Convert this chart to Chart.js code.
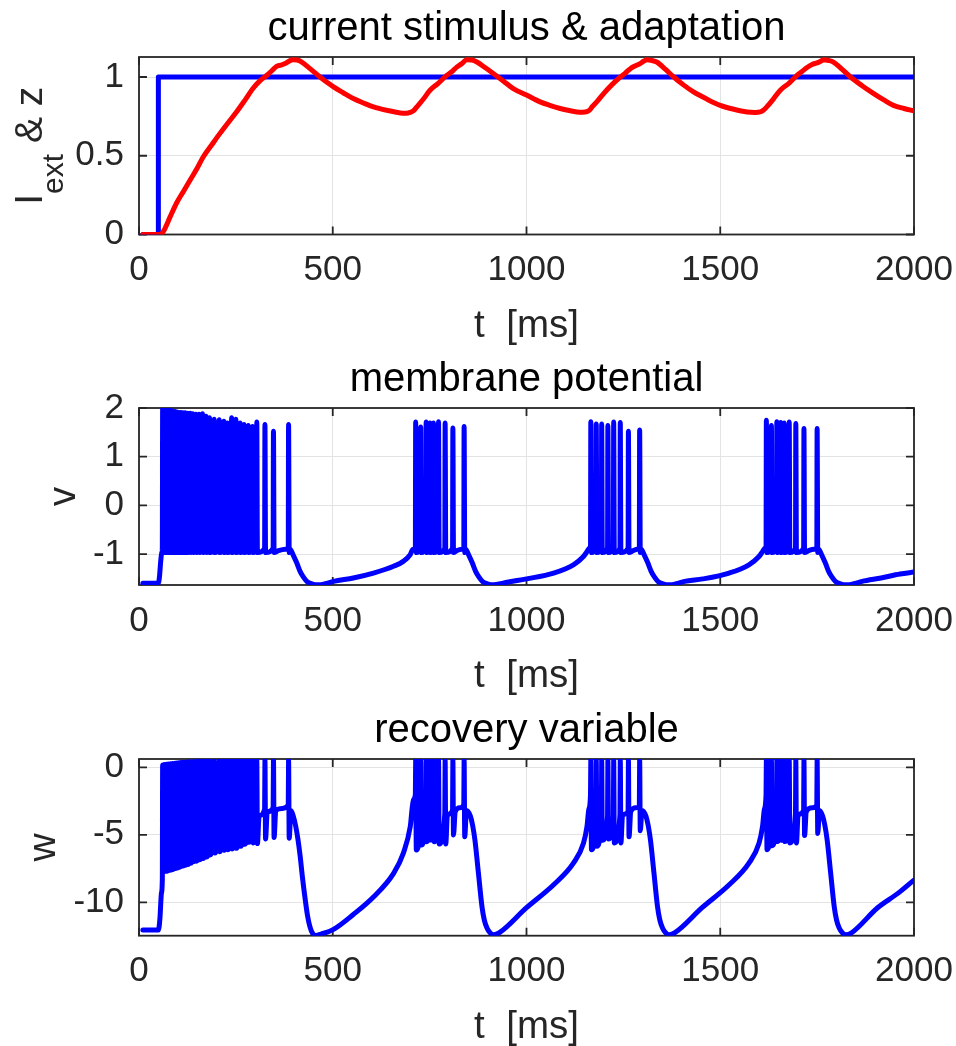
<!DOCTYPE html>
<html>
<head>
<meta charset="utf-8">
<script src="https://cdn.jsdelivr.net/npm/chart.js@4.4.1/dist/chart.umd.min.js"></script>
<style>
  body { margin: 0; background: #fff; overflow: hidden; }
  .panel { position: absolute; left: 0; width: 956px; }
</style>
</head>
<body>
<div class="panel" style="top:0px"><canvas id="stimChart" width="956" height="350"></canvas></div>
<div class="panel" style="top:351px"><canvas id="vChart" width="956" height="350"></canvas></div>
<div class="panel" style="top:702px"><canvas id="wChart" width="956" height="344"></canvas></div>
<script>
// ---- data ----
const tTicks = [0, 500, 1000, 1500, 2000];
const stimTicks = [0, 0.5, 1];
const vTicks = [-1, 0, 1, 2];
const wTicks = [-10, -5, 0];

// top panel: I_ext (blue) and z (red)
const stimTime = [10, 50, 50, 2000];
const stimValue = [0, 0, 1, 1];
const zTime = [10, 55, 63, 80, 97, 115, 132, 150, 166, 188,
  209, 230, 252, 274, 295, 312, 330, 343, 355, 366,
  377, 387, 397, 408, 420, 443, 467, 485, 502, 527,
  553, 579, 605, 640, 674, 690, 700, 708, 717, 734,
  751, 772, 794, 808, 820, 833, 846, 859, 872, 893,
  915, 940, 966, 1000, 1035, 1060, 1087, 1110, 1130, 1145,
  1156, 1163, 1169, 1184, 1199, 1220, 1242, 1255, 1268, 1280,
  1293, 1302, 1311, 1323, 1336, 1358, 1380, 1405, 1431, 1465,
  1500, 1535, 1569, 1590, 1603, 1612, 1620, 1637, 1655, 1677,
  1698, 1711, 1724, 1737, 1750, 1759, 1767, 1780, 1792, 1814,
  1836, 1866, 1896, 1922, 1947, 1974, 2000];
const zValue = [0, 0, 0.02, 0.11, 0.2, 0.275, 0.346, 0.42, 0.494, 0.57,
  0.642, 0.71, 0.779, 0.855, 0.93, 0.975, 1.011, 1.04, 1.068, 1.075,
  1.085, 1.10, 1.11, 1.108, 1.095, 1.05, 1.0, 0.967, 0.937, 0.9,
  0.863, 0.835, 0.81, 0.788, 0.772, 0.77, 0.775, 0.785, 0.81, 0.86,
  0.916, 0.96, 1.01, 1.035, 1.063, 1.085, 1.11, 1.108, 1.095, 1.06,
  1.021, 0.975, 0.926, 0.885, 0.842, 0.82, 0.80, 0.787, 0.778, 0.776,
  0.78, 0.79, 0.81, 0.85, 0.895, 0.95, 1.0, 1.025, 1.053, 1.07,
  1.085, 1.1, 1.11, 1.105, 1.095, 1.05, 1.0, 0.95, 0.905, 0.86,
  0.82, 0.795, 0.778, 0.775, 0.778, 0.79, 0.81, 0.86, 0.916, 0.96,
  1.01, 1.035, 1.06, 1.08, 1.09, 1.1, 1.11, 1.105, 1.095, 1.05,
  1.0, 0.945, 0.895, 0.855, 0.82, 0.8, 0.785];

// spikes of the four bursts [ms]
const spikeTime = [
  61, 66, 71, 76, 82, 87, 93, 98, 103, 108, 113, 119, 125, 132, 139, 147, 155,
  164, 173, 182, 194, 207, 219, 228, 239, 250, 261, 271, 282, 293, 304, 325, 347, 386,
  714, 727, 741, 751, 760, 773, 790, 810, 839,
  1166, 1180, 1194, 1210, 1225, 1242, 1263, 1292,
  1619, 1632, 1646, 1656, 1665, 1678, 1695, 1716, 1750];
const vPeak = [
  2.0, 1.98, 1.965, 1.96, 1.95, 1.94, 1.93, 1.92, 1.91, 1.91, 1.90, 1.90, 1.89, 1.89, 1.88, 1.87, 1.87,
  1.88, 1.83, 1.80, 1.77, 1.76, 1.73, 1.69, 1.80, 1.77, 1.69, 1.66, 1.64, 1.62, 1.71, 1.66, 1.52, 1.66,
  1.71, 1.61, 1.71, 1.69, 1.69, 1.72, 1.69, 1.59, 1.62,
  1.72, 1.67, 1.67, 1.64, 1.71, 1.70, 1.52, 1.55,
  1.75, 1.64, 1.72, 1.70, 1.69, 1.71, 1.68, 1.58, 1.58];
const vBefore = -0.88;
const vAfter = -0.97;
const wTop = [
  0.17, 0.2, 0.22, 0.24, 0.26, 0.28, 0.3, 0.32, 0.34, 0.36, 0.37, 0.38, 0.4, 0.41, 0.42, 0.44, 0.45,
  0.47, 0.49, 0.51, 0.53, 0.54, 0.56, 0.57, 0.58, 0.6, 0.62, 0.62, 0.62, 0.62, 0.62, 0.62, 0.62, 0.62,
  0.62, 0.62, 0.62, 0.62, 0.62, 0.62, 0.62, 0.62, 0.62,
  0.62, 0.62, 0.62, 0.62, 0.62, 0.62, 0.62, 0.62,
  0.62, 0.62, 0.62, 0.62, 0.62, 0.62, 0.62, 0.62, 0.62];
const wLow = [
  -7.75, -7.7, -7.7, -7.65, -7.6, -7.56, -7.5, -7.45, -7.4, -7.35, -7.3, -7.25, -7.2, -7.1, -7.0, -6.95, -6.85,
  -6.75, -6.65, -6.5, -6.35, -6.25, -6.15, -6.1, -6.05, -6.0, -5.85, -5.7, -5.55, -5.6, -5.65, -5.3, -5.2, -5.25,
  -6.13, -5.76, -5.51, -5.39, -5.51, -5.68, -5.68, -5.01, -5.14,
  -6.1, -5.85, -5.4, -5.3, -5.6, -5.6, -5.15, -4.7,
  -6.1, -5.8, -5.5, -5.4, -5.5, -5.6, -5.6, -5.05, -4.9];
const wBefore = [
  -8.3, -4.8, -4.8, -4.8, -4.7, -4.7, -4.6, -4.6, -4.6, -4.5, -4.5, -4.4, -4.4, -4.3, -4.2, -4.1, -4.0,
  -3.9, -3.8, -3.7, -3.5, -3.4, -3.4, -3.5, -3.4, -3.4, -3.4, -3.5, -3.5, -3.5, -3.4, -3.1, -3.0, -2.8,
  -2.0, -3.6, -3.6, -3.7, -3.7, -3.6, -3.4, -3.2, -2.75,
  -2.0, -3.6, -3.6, -3.6, -3.6, -3.5, -3.3, -2.9,
  -2.0, -3.6, -3.6, -3.7, -3.7, -3.6, -3.4, -3.2, -2.8];

// slow parts of v and w between the spikes
const vSlowTime = [10, 50, 53, 56, 59, 360, 378,
  390, 398, 407, 416, 424, 433, 446, 463, 480, 502, 553, 605, 657, 682, 700, 707,
  820, 832,
  843, 851, 860, 869, 877, 886, 899, 916, 933, 950, 1000, 1070, 1121, 1147, 1157, 1162,
  1275, 1286,
  1296, 1304, 1313, 1322, 1330, 1339, 1352, 1369, 1386, 1408, 1455, 1523, 1574, 1600, 1610, 1615,
  1728, 1742,
  1754, 1762, 1771, 1780, 1788, 1797, 1810, 1827, 1844, 1866, 1915, 1964, 2000];
const vSlowValue = [-1.6, -1.6, -1.45, -1.15, -0.95, -0.93, -0.9,
  -0.9, -1.02, -1.18, -1.36, -1.47, -1.56, -1.61, -1.63, -1.61, -1.56, -1.49, -1.39, -1.25, -1.15, -1.01, -0.9,
  -0.93, -0.9,
  -0.9, -1.02, -1.18, -1.36, -1.47, -1.56, -1.61, -1.63, -1.61, -1.58, -1.51, -1.39, -1.22, -1.05, -0.94, -0.88,
  -0.93, -0.9,
  -0.9, -1.02, -1.18, -1.36, -1.47, -1.56, -1.61, -1.63, -1.61, -1.56, -1.51, -1.39, -1.22, -1.05, -0.94, -0.88,
  -0.93, -0.9,
  -0.9, -1.02, -1.18, -1.36, -1.47, -1.56, -1.61, -1.63, -1.61, -1.56, -1.49, -1.41, -1.37];
const wSlowTime = [10, 50, 54, 58, 310, 331, 353, 370,
  392, 398, 404, 410, 416, 422, 429, 435, 441, 448, 456, 470, 502, 553, 605, 657, 682, 700, 708,
  796, 816, 828,
  845, 855, 861, 867, 876, 885, 891, 898, 906, 915, 930, 1000, 1070, 1121, 1147, 1156, 1161,
  1248, 1269, 1282,
  1298, 1308, 1314, 1320, 1329, 1338, 1344, 1351, 1359, 1368, 1383, 1453, 1523, 1574, 1600, 1609, 1614,
  1701, 1722, 1738,
  1756, 1764, 1770, 1776, 1785, 1794, 1800, 1807, 1815, 1824, 1839, 1906, 1960, 2000];
const wSlowValue = [-12.05, -12.05, -11.2, -9.3, -3.6, -3.3, -3.2, -3.05,
  -3.2, -3.6, -4.3, -5.3, -6.6, -8.2, -9.8, -11.0, -11.8, -12.3, -12.45, -12.35, -12.0, -10.9, -9.6, -7.85, -6.37, -4.4, -2.4,
  -3.5, -3.3, -3.0,
  -3.2, -3.6, -4.3, -5.4, -7.85, -10.3, -11.3, -11.9, -12.25, -12.4, -12.25, -10.4, -8.7, -7.1, -5.63, -4.4, -3.1,
  -3.5, -3.3, -3.0,
  -3.2, -3.6, -4.3, -5.4, -7.85, -10.3, -11.3, -11.9, -12.25, -12.4, -12.25, -10.4, -8.7, -7.1, -5.63, -4.4, -3.1,
  -3.5, -3.3, -3.0,
  -3.2, -3.6, -4.3, -5.4, -7.85, -10.3, -11.3, -11.9, -12.25, -12.4, -12.25, -10.4, -9.3, -8.35];

// ---- helpers ----
const FONT = '"Liberation Sans", Arial, Helvetica, sans-serif';
const INK = '#262626';

function toPoints(ts, ys) {
  return ts.map((t, i) => ({ x: t, y: ys[i] }));
}

// merge slow parts with the spikes (rise, peak, fall), sorted in time
function traceWithSpikes(slowT, slowY, top, before, after) {
  const pts = toPoints(slowT, slowY);
  spikeTime.forEach((t, i) => {
    pts.push({ x: t - 0.8, y: Array.isArray(before) ? before[i] : before });
    pts.push({ x: t, y: top[i] });
    pts.push({ x: t + 1.6, y: Array.isArray(after) ? after[i] : after });
  });
  return pts.sort((a, b) => a.x - b.x);
}

// box, inward ticks, title and axis labels
const panelText = {
  id: 'panelText',
  beforeDatasetsDraw(chart) {
    const { ctx, chartArea: a, scales: { x, y } } = chart;
    ctx.save();
    ctx.strokeStyle = INK;
    ctx.lineWidth = 1.8;
    ctx.beginPath();
    x.ticks.forEach(tk => {
      const px = x.getPixelForValue(tk.value);
      ctx.moveTo(px, a.bottom); ctx.lineTo(px, a.bottom - 8);
      ctx.moveTo(px, a.top); ctx.lineTo(px, a.top + 8);
    });
    y.ticks.forEach(tk => {
      const py = y.getPixelForValue(tk.value);
      ctx.moveTo(a.left, py); ctx.lineTo(a.left + 8, py);
      ctx.moveTo(a.right, py); ctx.lineTo(a.right - 8, py);
    });
    ctx.stroke();
    ctx.strokeRect(a.left, a.top, a.right - a.left, a.bottom - a.top);
    ctx.restore();
  },
  afterDraw(chart, args, opts) {
    const { ctx, chartArea: a } = chart;
    const cx = (a.left + a.right) / 2;
    ctx.save();
    ctx.textAlign = 'center';
    ctx.textBaseline = 'alphabetic';
    ctx.fillStyle = '#000';
    ctx.font = `40px ${FONT}`;
    ctx.fillText(opts.title, cx, a.top - 17);
    ctx.fillStyle = INK;
    ctx.font = `38.5px ${FONT}`;
    ctx.fillText('t  [ms]', cx, a.bottom + 102);

    // rotated y label, subscript parts drawn smaller and lower
    ctx.translate(opts.yLabelX, (a.top + a.bottom) / 2);
    ctx.rotate(-Math.PI / 2);
    ctx.textAlign = 'left';
    const parts = opts.yLabel.map(p => ({ text: p.text, sub: !!p.sub, font: p.sub ? `30px ${FONT}` : `39px ${FONT}` }));
    let total = 0;
    parts.forEach(p => { ctx.font = p.font; p.w = ctx.measureText(p.text).width; total += p.w; });
    let pos = -total / 2;
    parts.forEach(p => {
      ctx.font = p.font;
      ctx.fillText(p.text, pos, p.sub ? 21 : 0);
      pos += p.w;
    });
    ctx.restore();
  }
};

function makePanel(id, datasets, yMin, yMax, yTicks, xAxisHeight, text) {
  return new Chart(document.getElementById(id), {
    type: 'line',
    data: { datasets: datasets },
    options: {
      responsive: false,
      animation: false,
      devicePixelRatio: 1,
      events: [],
      layout: { padding: { top: 57, right: 42, left: 0, bottom: 0 } },
      elements: {
        point: { radius: 0 },
        line: { borderWidth: 5, borderJoinStyle: 'round', borderCapStyle: 'round', fill: false }
      },
      scales: {
        x: {
          type: 'linear', min: 0, max: 2000,
          afterBuildTicks: ax => { ax.ticks = tTicks.map(v => ({ value: v })); },
          afterFit: ax => { ax.height = xAxisHeight; ax.paddingLeft = 0; ax.paddingRight = 0; },
          grid: { color: '#e3e3e3', lineWidth: 1, drawTicks: false },
          border: { display: false },
          ticks: { color: INK, padding: 15, maxRotation: 0, font: { family: FONT, size: 35 }, callback: v => String(v) }
        },
        y: {
          type: 'linear', min: yMin, max: yMax,
          afterBuildTicks: ax => { ax.ticks = yTicks.map(v => ({ value: v })); },
          afterFit: ax => { ax.width = 139; ax.paddingTop = 0; ax.paddingBottom = 0; },
          grid: { color: '#e3e3e3', lineWidth: 1, drawTicks: false },
          border: { display: false },
          ticks: { color: INK, padding: 15, font: { family: FONT, size: 35 }, callback: v => String(v) }
        }
      },
      plugins: {
        legend: { display: false },
        tooltip: { enabled: false },
        panelText: text
      }
    },
    plugins: [panelText]
  });
}

makePanel('stimChart', [
  { data: toPoints(zTime, zValue), borderColor: '#ff0000', borderWidth: 5, cubicInterpolationMode: 'monotone' },
  { data: toPoints(stimTime, stimValue), borderColor: '#0000ff', borderWidth: 5, tension: 0 }
], 0, 1.127, stimTicks, 115.5, {
  title: 'current stimulus & adaptation',
  yLabel: [{ text: 'I' }, { text: 'ext', sub: true }, { text: ' & z' }],
  yLabelX: 42
});

makePanel('vChart', [
  { data: traceWithSpikes(vSlowTime, vSlowValue, vPeak, vBefore, vAfter), borderColor: '#0000ff', borderWidth: 5, cubicInterpolationMode: 'monotone' }
], -1.635, 2.0, vTicks, 116, {
  title: 'membrane potential',
  yLabel: [{ text: 'v' }],
  yLabelX: 75
});

makePanel('wChart', [
  { data: traceWithSpikes(wSlowTime, wSlowValue, wTop, wBefore, wLow), borderColor: '#0000ff', borderWidth: 5, cubicInterpolationMode: 'monotone' }
], -12.47, 0.615, wTicks, 110.3, {
  title: 'recovery variable',
  yLabel: [{ text: 'w' }],
  yLabelX: 55
});
</script>
</body>
</html>
